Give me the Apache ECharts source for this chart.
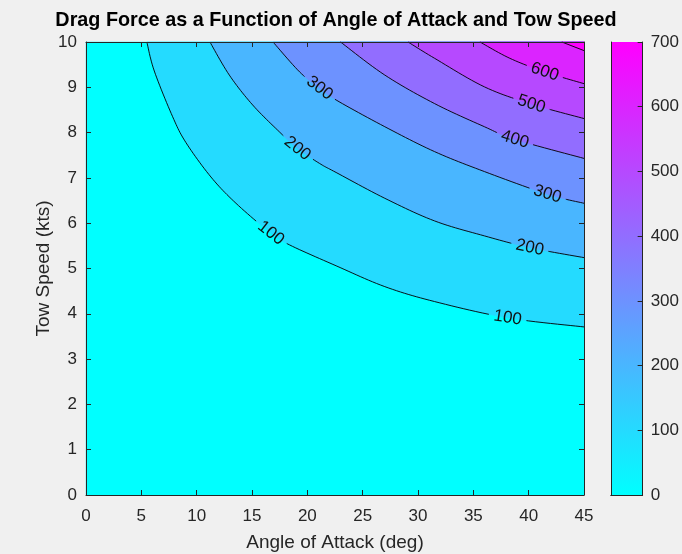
<!DOCTYPE html>
<html>
<head>
<meta charset="utf-8">
<script src="https://cdn.jsdelivr.net/npm/echarts@6/dist/echarts.min.js"></script>
<style>
  html, body { margin: 0; padding: 0; background: #f0f0f0; }
  #chart { width: 682px; height: 554px; }
</style>
</head>
<body>
<div id="chart"></div>
<script>
// Drag force contour levels (N) and the fill colour of the band above each level
const levels = [0, 100, 200, 300, 400, 500, 600, 700];
const bandColors = ['#00ffff', '#24dbff', '#49b6ff', '#6d92ff', '#926dff', '#b649ff', '#db24ff', '#ff00ff'];

// Contour paths as [angle of attack (deg), tow speed (kts)], running from the top edge to the right edge
const contour100 = [[5.5, 10], [6.17, 9.36], [7.83, 8.35], [9.03, 7.78], [11.29, 7.02], [13.55, 6.44], [16.7, 5.78], [18.4, 5.52], [22.6, 5.06], [27.0, 4.6], [31.5, 4.27], [38.1, 3.91], [45, 3.71]];
const contour200 = [[11.2, 10], [12.95, 9.27], [15.06, 8.61], [17.46, 8.02], [19.1, 7.65], [21.1, 7.32], [22.6, 7.12], [27.0, 6.55], [31.5, 6.05], [36.0, 5.72], [40.1, 5.46], [45, 5.24]];
const contour300 = [[16.9, 10], [19.3, 9.34], [21.1, 8.98], [22.6, 8.72], [27.0, 8.13], [31.5, 7.58], [36.0, 7.14], [41.7, 6.64], [45, 6.44]];
const contour400 = [[23.0, 10], [27.0, 9.27], [31.5, 8.64], [36.0, 8.13], [38.75, 7.85], [45, 7.43]];
const contour500 = [[29.1, 10], [31.5, 9.64], [36.0, 9.01], [40.25, 8.63], [45, 8.31]];
const contour600 = [[35.6, 10], [38.3, 9.64], [41.45, 9.34], [45, 9.08]];
const contour700 = [[43.0, 10], [45, 9.81]];

// Where each contour carries its inline value label
const labels100 = [[16.7, 5.78], [38.1, 3.91]];
const labels200 = [[19.1, 7.65], [40.1, 5.46]];
const labels300 = [[21.1, 8.98], [41.7, 6.64]];
const labels400 = [[38.75, 7.85]];
const labels500 = [[40.25, 8.63]];
const labels600 = [[41.45, 9.34]];
const labels700 = [];

// Axis ranges
const angleRange = [0, 45];
const speedRange = [0, 10];
const forceRange = [0, 700];

const contours = [null, contour100, contour200, contour300, contour400, contour500, contour600, contour700];
const contourLabels = [null, labels100, labels200, labels300, labels400, labels500, labels600, labels700];

const FONT = '"Liberation Sans", Arial, Helvetica, sans-serif';
const INK = '#262626';

// Draw a pixel polyline as a smooth Catmull-Rom curve (rendering only; the data points are unchanged)
function smoothPixels(pts, steps) {
  if (pts.length < 3) return pts.slice();
  const out = [pts[0]];
  for (let k = 0; k < pts.length - 1; k++) {
    const p0 = pts[Math.max(0, k - 1)], p1 = pts[k], p2 = pts[k + 1], p3 = pts[Math.min(pts.length - 1, k + 2)];
    for (let s = 1; s <= steps; s++) {
      const t = s / steps, t2 = t * t, t3 = t2 * t;
      const f = (a, b, c, d) => 0.5 * ((2 * b) + (-a + c) * t + (2 * a - 5 * b + 4 * c - d) * t2 + (-a + 3 * b - 3 * c + d) * t3);
      out.push([f(p0[0], p1[0], p2[0], p3[0]), f(p0[1], p1[1], p2[1], p3[1])]);
    }
  }
  return out;
}

// Split a pixel polyline into pieces that stay outside circles around the label anchors
function gapLine(pts, centers, r) {
  const out = [];
  let cur = null;
  const p0 = pts[0];
  if (!centers.some(c => Math.hypot(p0[0] - c[0], p0[1] - c[1]) < r)) cur = [p0];
  for (let k = 0; k < pts.length - 1; k++) {
    const P = pts[k], Q = pts[k + 1];
    const dx = Q[0] - P[0], dy = Q[1] - P[1];
    const cuts = [];
    centers.forEach(c => {
      const fx = P[0] - c[0], fy = P[1] - c[1];
      const a = dx * dx + dy * dy, b = 2 * (fx * dx + fy * dy), cc = fx * fx + fy * fy - r * r;
      const d = b * b - 4 * a * cc;
      if (a > 0 && d > 0) {
        const s = Math.sqrt(d);
        const t1 = (-b - s) / (2 * a), t2 = (-b + s) / (2 * a);
        if (t2 > 0 && t1 < 1) cuts.push([Math.max(0, t1), Math.min(1, t2)]);
      }
    });
    cuts.sort((u, v) => u[0] - v[0]);
    const at = t => [P[0] + dx * t, P[1] + dy * t];
    cuts.forEach(([t1, t2]) => {
      if (cur) { cur.push(at(t1)); out.push(cur); cur = null; }
      if (t2 < 1) cur = [at(t2)];
    });
    if (cur) cur.push(Q);
  }
  if (cur && cur.length > 1) out.push(cur);
  return out;
}

// Direction of the polyline closest to a point, kept upright for reading
function localAngle(pts, c) {
  let best = Infinity, ang = 0;
  for (let k = 0; k < pts.length - 1; k++) {
    const P = pts[k], Q = pts[k + 1];
    const dx = Q[0] - P[0], dy = Q[1] - P[1];
    const L = dx * dx + dy * dy;
    let t = L > 0 ? ((c[0] - P[0]) * dx + (c[1] - P[1]) * dy) / L : 0;
    t = Math.max(0, Math.min(1, t));
    const d = Math.hypot(P[0] + dx * t - c[0], P[1] + dy * t - c[1]);
    if (d < best) { best = d; ang = Math.atan2(dy, dx); }
  }
  if (ang > Math.PI / 2) ang -= Math.PI;
  if (ang < -Math.PI / 2) ang += Math.PI;
  return ang;
}

const chart = echarts.init(document.getElementById('chart'), null, { renderer: 'canvas' });

const axisCommon = {
  type: 'value',
  z: 10,
  axisLine: { show: true, onZero: false, lineStyle: { color: INK, width: 1 } },
  axisTick: { show: true, inside: true, length: 5, lineStyle: { color: INK, width: 1 } },
  splitLine: { show: false },
  axisLabel: { color: INK, fontFamily: FONT, fontSize: 17 }
};

const option = {
  backgroundColor: '#f0f0f0',
  animation: false,
  graphic: [{
    type: 'text',
    x: 336, y: 21,
    style: {
      text: 'Drag Force as a Function of Angle of Attack and Tow Speed',
      font: 'bold 19.8px ' + FONT,
      fill: '#000',
      align: 'center',
      verticalAlign: 'middle'
    }
  }],
  grid: [
    { left: 86, top: 42, width: 498, height: 453, containLabel: false, outerBoundsMode: 'none' },
    { left: 611, top: 42, width: 35, height: 453 }
  ],
  xAxis: [
    Object.assign({}, axisCommon, {
      gridIndex: 0, position: 'bottom', min: angleRange[0], max: angleRange[1], interval: 5,
      axisLabel: Object.assign({}, axisCommon.axisLabel, { margin: 13 }),
      name: 'Angle of Attack (deg)', nameLocation: 'middle', nameGap: 38, nameMoveOverlap: false,
      nameTextStyle: { color: INK, fontFamily: FONT, fontSize: 19 }
    }),
    Object.assign({}, axisCommon, {
      gridIndex: 0, position: 'top', min: angleRange[0], max: angleRange[1], interval: 5,
      axisLabel: { show: false }
    }),
    {
      type: 'category', gridIndex: 1, position: 'bottom', data: ['scale'], z: 10,
      axisLine: { show: true, lineStyle: { color: INK, width: 1 } },
      axisTick: { show: false }, axisLabel: { show: false }
    },
    {
      type: 'category', gridIndex: 1, position: 'top', data: ['scale'], z: 10,
      axisLine: { show: true, lineStyle: { color: INK, width: 1 } },
      axisTick: { show: false }, axisLabel: { show: false }
    }
  ],
  yAxis: [
    Object.assign({}, axisCommon, {
      gridIndex: 0, position: 'left', min: speedRange[0], max: speedRange[1], interval: 1,
      axisLabel: Object.assign({}, axisCommon.axisLabel, { margin: 9 }),
      name: 'Tow Speed (kts)', nameLocation: 'middle', nameGap: 33, nameMoveOverlap: false,
      nameTextStyle: { color: INK, fontFamily: FONT, fontSize: 19 }
    }),
    Object.assign({}, axisCommon, {
      gridIndex: 0, position: 'right', min: speedRange[0], max: speedRange[1], interval: 1,
      axisLabel: { show: false }
    }),
    Object.assign({}, axisCommon, {
      gridIndex: 1, position: 'right', min: forceRange[0], max: forceRange[1], interval: 100,
      axisLabel: Object.assign({}, axisCommon.axisLabel, { margin: 8 })
    }),
    {
      type: 'value', gridIndex: 1, position: 'left', min: forceRange[0], max: forceRange[1], z: 10,
      axisLine: { show: true, onZero: false, lineStyle: { color: INK, width: 1 } },
      axisTick: { show: false }, axisLabel: { show: false }, splitLine: { show: false }
    }
  ],
  series: [
    {
      // Filled bands: each level paints the region at or above it
      type: 'custom',
      xAxisIndex: 0, yAxisIndex: 0,
      silent: true,
      z: 1,
      data: levels.map((lv, i) => [i]),
      renderItem: function (params, api) {
        const i = api.value(0);
        let pts;
        if (i === 0) {
          pts = [[angleRange[0], speedRange[0]], [angleRange[1], speedRange[0]], [angleRange[1], speedRange[1]], [angleRange[0], speedRange[1]]]
            .map(p => api.coord(p));
        } else {
          pts = smoothPixels(contours[i].map(p => api.coord(p)), 12)
            .concat([api.coord([angleRange[1], speedRange[1]])]);
        }
        return {
          type: 'polygon',
          shape: { points: pts },
          style: { fill: bandColors[i], stroke: bandColors[i], lineWidth: 0.5 }
        };
      }
    },
    {
      // Contour lines with inline value labels
      type: 'custom',
      xAxisIndex: 0, yAxisIndex: 0,
      silent: true,
      z: 3,
      data: levels.slice(1).map((lv, i) => [i + 1]),
      renderItem: function (params, api) {
        const i = api.value(0);
        const pts = smoothPixels(contours[i].map(p => api.coord(p)), 12);
        const centers = contourLabels[i].map(p => api.coord(p));
        const children = gapLine(pts, centers, 19).map(seg => ({
          type: 'polyline',
          shape: { points: seg },
          style: { stroke: '#000', lineWidth: 0.9, fill: null }
        }));
        centers.forEach(c => {
          const ang = localAngle(pts, c);
          children.push({
            type: 'text',
            x: c[0], y: c[1],
            rotation: -ang,
            style: {
              text: String(levels[i]),
              font: '17px ' + FONT,
              fill: '#111',
              align: 'center',
              verticalAlign: 'middle'
            }
          });
        });
        return { type: 'group', children: children };
      }
    },
    {
      // Colour scale bar
      type: 'bar',
      xAxisIndex: 2, yAxisIndex: 2,
      silent: true,
      barWidth: '100%',
      data: [forceRange[1]],
      itemStyle: {
        color: new echarts.graphic.LinearGradient(0, 0, 0, 1, [
          { offset: 0, color: bandColors[bandColors.length - 1] },
          { offset: 1, color: bandColors[0] }
        ])
      }
    }
  ]
};

chart.setOption(option);
</script>
</body>
</html>
